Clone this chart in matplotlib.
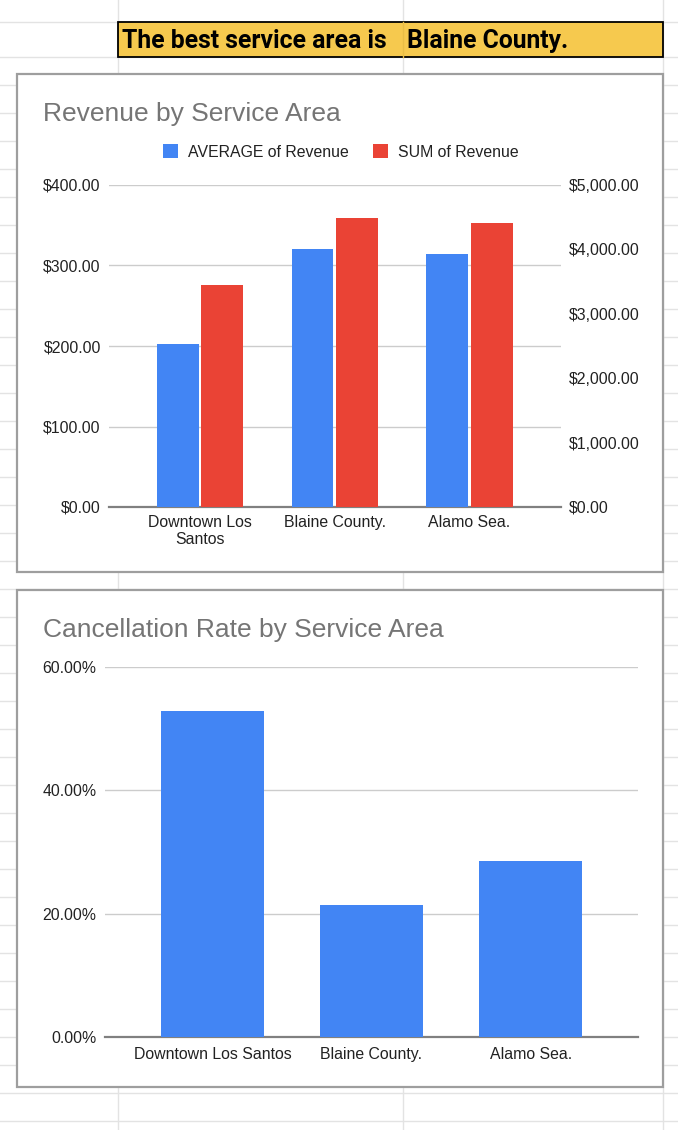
import matplotlib.pyplot as plt
from matplotlib.ticker import FuncFormatter, MultipleLocator

# data
areas = ["Downtown Los Santos", "Blaine County.", "Alamo Sea."]
area_labels_wrapped = ["Downtown Los\nSantos", "Blaine County.", "Alamo Sea."]
avg_revenue = [203, 321, 314]
sum_revenue = [3447, 4490, 4410]
cancel_rate = [52.8, 21.4, 28.5]

BLUE = "#4285f4"
RED = "#ea4335"
W, H = 678, 1130

plt.rcParams["font.family"] = ["Liberation Sans", "DejaVu Sans"]

fig = plt.figure(figsize=(W / 100, H / 100), dpi=100)
fig.patch.set_facecolor("white")


def px_axes(left, top, right, bottom):
    return fig.add_axes([left / W, 1 - bottom / H, (right - left) / W, (bottom - top) / H])


# spreadsheet background
bg = fig.add_axes([0, 0, 1, 1])
bg.set_xlim(0, W)
bg.set_ylim(H, 0)
bg.axis("off")
grid_c = "#e3e3e3"
for x in (118, 403, 663):
    bg.plot([x, x], [0, H], color=grid_c, lw=1)
for y in [22] + [57 + 28 * k for k in range(39)]:
    bg.plot([0, W], [y, y], color=grid_c, lw=1)

# banner cell
bg.add_patch(plt.Rectangle((118, 22), 545, 35, facecolor="#f6c94e", edgecolor="black", lw=1.3, zorder=3))
bg.plot([403, 403], [22, 57], color="#e8bd46", lw=1, zorder=4)
bg.text(122, 41, "The best service area is", fontsize=17.8, fontweight="bold",
        family=["Roboto", "DejaVu Sans"], va="center", ha="left", zorder=5)
bg.text(407, 41, "Blaine County.", fontsize=17.8, fontweight="bold",
        family=["Roboto", "DejaVu Sans"], va="center", ha="left", zorder=5)

# chart frames
for top, bottom in ((74, 572), (590, 1087)):
    bg.add_patch(plt.Rectangle((16.5, top), 646, bottom - top, facecolor="white",
                               edgecolor="#9e9e9e", lw=1.6, zorder=3))

bg.text(43, 114, "Revenue by Service Area", fontsize=19, color="#757575",
        va="center", ha="left", zorder=5)
bg.text(43, 630, "Cancellation Rate by Service Area", fontsize=19, color="#757575",
        va="center", ha="left", zorder=5)

tick_fs = 11.4
txt_c = "#222222"


def style(ax):
    ax.patch.set_visible(False)
    for s in ("top", "left", "right"):
        ax.spines[s].set_visible(False)
    ax.spines["bottom"].set_color("#808080")
    ax.spines["bottom"].set_linewidth(1.6)
    ax.tick_params(length=0, labelsize=tick_fs, labelcolor=txt_c)
    ax.grid(axis="y", color="#cccccc", lw=1)
    ax.set_axisbelow(True)


# revenue chart
ax1 = px_axes(108.5, 185, 561, 507)
style(ax1)
xs = list(range(len(areas)))
ax1.bar([x - 0.165 for x in xs], avg_revenue, width=0.31, color=BLUE, label="AVERAGE of Revenue", zorder=3)
ax1.set_ylim(0, 400)
ax1.yaxis.set_major_locator(MultipleLocator(100))
ax1.yaxis.set_major_formatter(FuncFormatter(lambda v, p: "${:,.2f}".format(v)))
ax1.set_xlim(-0.68, 2.68)
ax1.set_xticks(xs)
ax1.set_xticklabels(area_labels_wrapped, linespacing=1.15)
ax1.tick_params(axis="x", pad=6)
ax1.tick_params(axis="y", pad=5.5)

ax2 = ax1.twinx()
ax2.patch.set_visible(False)
for s in ("top", "left", "right", "bottom"):
    ax2.spines[s].set_visible(False)
ax2.bar([x + 0.165 for x in xs], sum_revenue, width=0.31, color=RED, label="SUM of Revenue", zorder=3)
ax2.set_ylim(0, 5000)
ax2.yaxis.set_major_locator(MultipleLocator(1000))
ax2.yaxis.set_major_formatter(FuncFormatter(lambda v, p: "${:,.2f}".format(v)))
ax2.tick_params(length=0, labelsize=tick_fs, labelcolor=txt_c, pad=5.5)

h1, l1 = ax1.get_legend_handles_labels()
h2, l2 = ax2.get_legend_handles_labels()
fig.legend(h1 + h2, l1 + l2, loc="center", bbox_to_anchor=(341 / W, 1 - 152 / H),
           ncol=2, frameon=False, fontsize=tick_fs, handlelength=0.95, handleheight=0.95,
           handletextpad=0.65, columnspacing=1.5, labelcolor=txt_c)

# cancellation chart
ax3 = px_axes(105, 667, 638, 1037)
style(ax3)
ax3.bar(xs, cancel_rate, width=0.65, color=BLUE, zorder=3)
ax3.set_ylim(0, 60)
ax3.yaxis.set_major_locator(MultipleLocator(20))
ax3.yaxis.set_major_formatter(FuncFormatter(lambda v, p: "{:.2f}%".format(v)))
ax3.set_xlim(-0.675, 2.675)
ax3.set_xticks(xs)
ax3.set_xticklabels(areas)
ax3.tick_params(axis="x", pad=7)
ax3.tick_params(axis="y", pad=6)

fig.savefig("out.png", dpi=100)
